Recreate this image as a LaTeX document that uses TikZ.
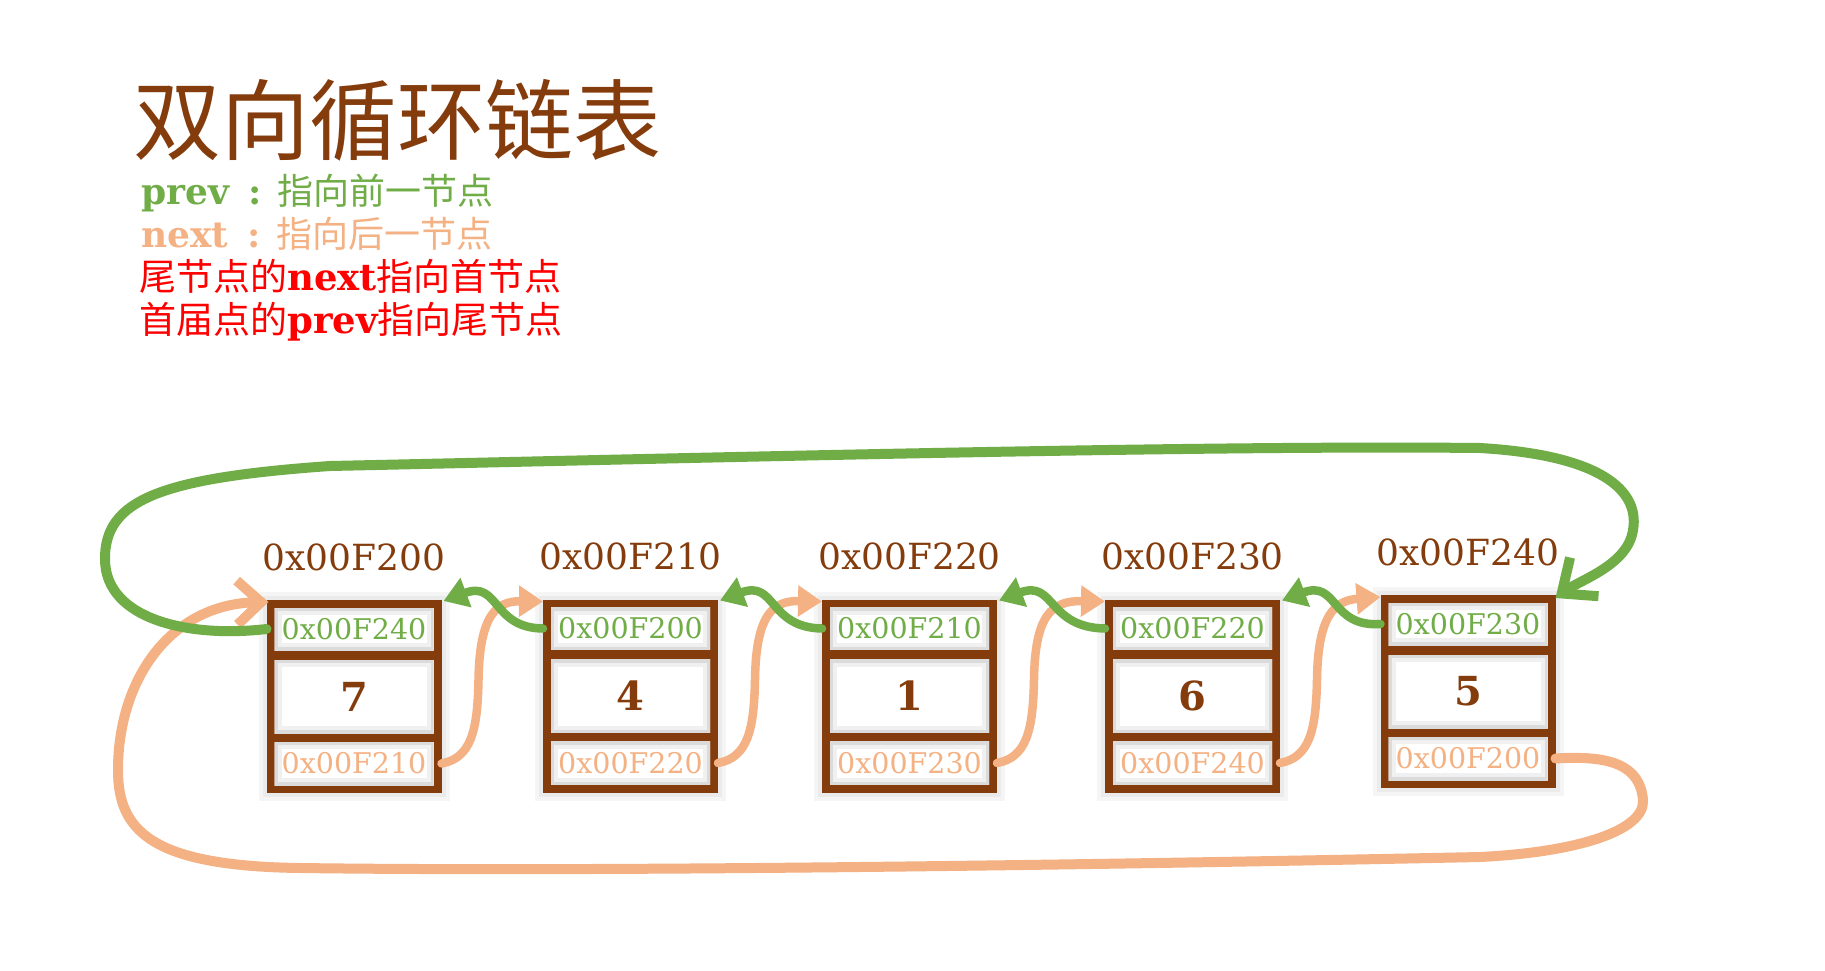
\documentclass[tikz,border=0pt]{standalone}
\usepackage{fontspec}
\setmainfont{DejaVu Serif}
\newfontfamily\cjk{Noto Sans CJK SC}
\usetikzlibrary{arrows.meta,calc}
\definecolor{brownc}{HTML}{843C0C}
\definecolor{greenc}{HTML}{70AD47}
\definecolor{peachc}{HTML}{F4B183}
\definecolor{redc}{HTML}{FF0000}
\begin{document}
\begin{tikzpicture}[x=1pt,y=-1pt,
  frame/.style={rectangle, fill=brownc, minimum width=175pt, minimum height=193pt, inner sep=0pt, outer sep=0pt,
    preaction={draw=black!4, line width=16pt}, preaction={draw=black!8, line width=8pt}},
  cell/.style={rectangle, fill=white, minimum width=159pt, inner sep=0pt, outer sep=0pt,
    path picture={
      \draw[black!6, line width=14pt] (path picture bounding box.south west) rectangle (path picture bounding box.north east);
      \draw[black!14, line width=6pt] (path picture bounding box.south west) rectangle (path picture bounding box.north east);}},
  cellp/.style={cell, minimum height=42pt, text=greenc, font=\fontsize{28.5}{28.5}\selectfont},
  celld/.style={cell, minimum height=73pt, text=brownc, font=\fontsize{40}{40}\selectfont\bfseries},
  celln/.style={cell, minimum height=43pt, text=peachc, font=\fontsize{28.5}{28.5}\selectfont},
  addr/.style={inner sep=0pt, text=brownc, font=\fontsize{36}{36}\selectfont},
  legend/.style={anchor=base west, inner sep=0pt},
  gline/.style={draw=greenc, line width=8.5pt, line cap=round, line join=round},
  pline/.style={draw=peachc, line width=8.5pt, line cap=round, line join=round}
]
\useasboundingbox (0,0) rectangle (1825,971);
\fill[white] (0,0) rectangle (1825,971);

% title and legend
\node[anchor=west, inner sep=0pt, text=brownc, font={\cjk\fontsize{88}{88}\selectfont}] (title) at (133,120) {双向循环链表};
\node[legend, text=greenc, font=\fontsize{36}{36}\selectfont] (lp) at (141,204)
  {{\bfseries prev\hspace{19pt}:}\hspace{16pt}{\cjk 指向前一节点}};
\node[legend, text=peachc, font=\fontsize{36}{36}\selectfont] (ln) at (141,247)
  {{\bfseries next\hspace{19pt}:}\hspace{16pt}{\cjk 指向后一节点}};
\node[legend, text=redc, font=\fontsize{37}{37}\selectfont] (r1) at (139,290)
  {{\cjk 尾节点的}{\bfseries next}{\cjk 指向首节点}};
\node[legend, text=redc, font=\fontsize{37}{37}\selectfont] (r2) at (139,333)
  {{\cjk 首届点的}{\bfseries prev}{\cjk 指向尾节点}};

% nodes of the list
\foreach \i/\x/\t/\v/\ad/\pr/\nx in {
  1/354/600/7/0x00F200/0x00F240/0x00F210,
  2/630.5/599.5/4/0x00F210/0x00F200/0x00F220,
  3/909.5/599.5/1/0x00F220/0x00F210/0x00F230,
  4/1192.5/599.5/6/0x00F230/0x00F220/0x00F240,
  5/1468/595/5/0x00F240/0x00F230/0x00F200} {
  \node[frame] (b\i) at (\x,{\t+96.5}) {};
  \node[cellp] (p\i) at ($(b\i.north)+(0,29)$) {\pr};
  \node[celld] (d\i) at ($(b\i.north)+(0,96.5)$) {\v};
  \node[celln] (n\i) at ($(b\i.north)+(0,163.5)$) {\nx};
  \node[addr] (a\i) at ($(b\i.north)+(0,-43)$) {\ad};
}

% next pointers (peach)
\foreach \i/\j in {1/2,2/3,3/4,4/5} {
  \draw[pline, -{Triangle[length=24pt,width=30pt]}]
    (b\i.east |- n\i.center)
    .. controls ($(b\i.north east)+(30,158)$) and ($(b\i.north east)+(36,130)$) .. ($(b\i.north east)+(37,80)$)
    .. controls ($(b\i.north east)+(38,15)$) and ($(b\i.north east)+(55,1)$) .. ($(b\j.north west)+(0,2)$);
}
\draw[pline, line width=10pt, -{Straight Barb[length=24pt,width=44pt]}]
  (b5.east |- n5.center)
  .. controls (1610,755) and (1640,765) .. (1643,800)
  .. controls (1645,830) and (1580,852) .. (1480,857)
  .. controls (1100,865) and (600,872) .. (300,868)
  .. controls (150,866) and (118,830) .. (118,770)
  .. controls (118,680) and (170,604) .. ($(b1.north west)+(2,2)$);

% prev pointers (green)
\foreach \i/\j in {1/2,2/3,3/4,4/5} {
  \draw[gline, -{Triangle[length=24pt,width=30pt]}]
    (b\j.west |- p\j.center)
    .. controls ($(b\i.north east)+(50,28)$) and ($(b\i.north east)+(58,-20)$) .. ($(b\i.north east)+(2,1)$);
}
\draw[gline, line width=10pt, -{Straight Barb[length=28pt,width=48pt]}]
  (b1.west |- p1.center)
  .. controls (190,638) and (106,620) .. (105,560)
  .. controls (104,500) and (160,478) .. (330,466)
  .. controls (700,458) and (1200,445) .. (1480,448)
  .. controls (1600,455) and (1640,490) .. (1633,530)
  .. controls (1628,565) and (1580,580) .. ($(b5.north east)+(0,3)$);
\end{tikzpicture}
\end{document}
